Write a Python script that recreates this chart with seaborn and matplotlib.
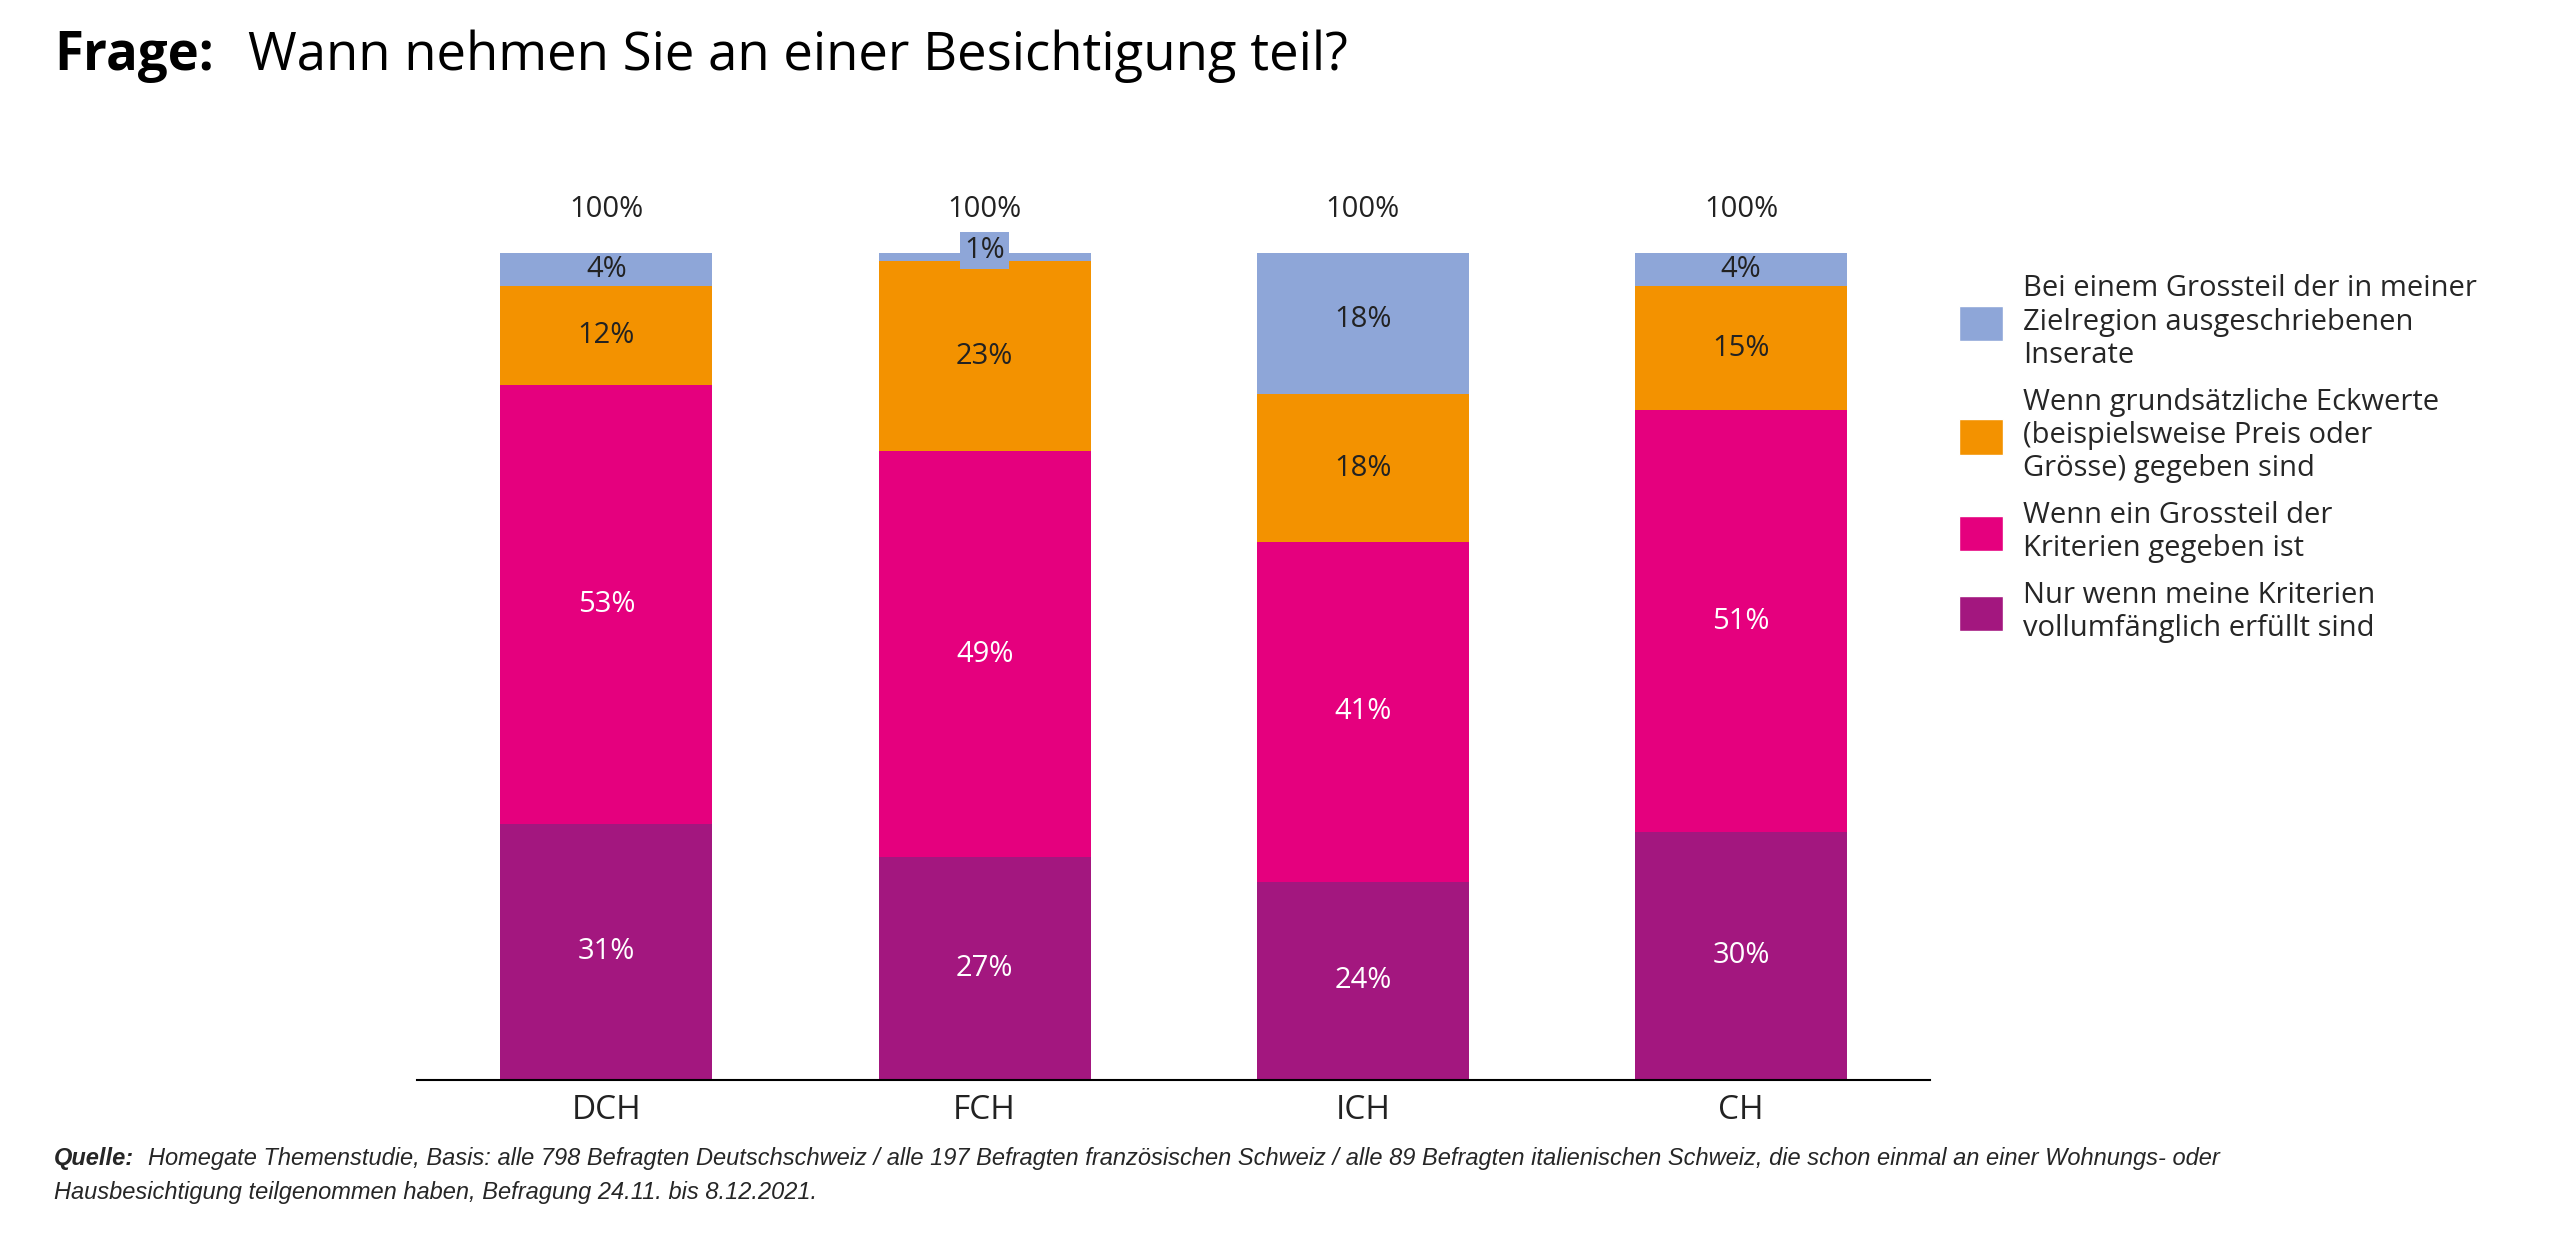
import matplotlib.pyplot as plt
import numpy as np
import pandas as pd
import seaborn as sns
from matplotlib.patches import Patch

regions = ["DCH", "FCH", "ICH", "CH"]
nur_wenn = [31, 27, 24, 30]
grossteil_kriterien = [53, 49, 41, 51]
eckwerte = [12, 23, 18, 15]
grossteil_inserate = [4, 1, 18, 4]
totals = ["100%", "100%", "100%", "100%"]

layers = [
    ("Nur wenn meine Kriterien\nvollumfänglich erfüllt sind", nur_wenn, "#A3177F", "white"),
    ("Wenn ein Grossteil der\nKriterien gegeben ist", grossteil_kriterien, "#E5007E", "white"),
    ("Wenn grundsätzliche Eckwerte\n(beispielsweise Preis oder\nGrösse) gegeben sind", eckwerte, "#F39200", "#222222"),
    ("Bei einem Grossteil der in meiner\nZielregion ausgeschriebenen\nInserate", grossteil_inserate, "#8EA6D8", "#222222"),
]

sns.set_theme(style="white")
plt.rcParams['font.family'] = ['Open Sans', 'DejaVu Sans']

fig = plt.figure(figsize=(25.6, 12.4), dpi=100)
ax = fig.add_axes([0.163, 0.129, 0.591, 0.667])

bottom = np.zeros(len(regions))
for name, vals, color, tcol in layers:
    df = pd.DataFrame({"region": regions, "value": vals})
    sns.barplot(data=df, x="region", y="value", color=color, width=0.56,
                bottom=bottom, ax=ax, saturation=1, linewidth=0, errorbar=None)
    for i, v in enumerate(vals):
        y = bottom[i] + v / 2
        if v <= 1:
            ax.text(i, bottom[i] + v + 0.3, f"{v}%", ha="center", va="center", fontsize=21,
                    color=tcol, bbox=dict(boxstyle="square,pad=0.15", fc=color, ec="none"))
        else:
            ax.text(i, y, f"{v}%", ha="center", va="center", fontsize=21, color=tcol)
    bottom = bottom + np.array(vals)

for i, t in enumerate(totals):
    ax.text(i, 103.5, t, ha="center", va="bottom", fontsize=21, color="#222222")

ax.set_xlim(-0.5, 3.5)
ax.set_ylim(0, 100)
ax.set_xlabel("")
ax.set_ylabel("")
ax.set_yticks([])
ax.tick_params(axis="x", labelsize=24, colors="#222222", length=0, pad=10)
for s in ["top", "right", "left"]:
    ax.spines[s].set_visible(False)
ax.spines["bottom"].set_color("black")
ax.spines["bottom"].set_linewidth(1.5)

handles = [Patch(facecolor=c, label=n) for n, _, c, _ in layers[::-1]]
fig.legend(handles=handles, loc="upper left", bbox_to_anchor=(0.755, 0.8), frameon=False,
           fontsize=21, handlelength=1.5, handleheight=1.5, labelspacing=0.6, handletextpad=0.7,
           alignment="left")

fig.text(0.021, 0.955, "Frage:", fontsize=38, fontweight="bold", va="center", color="black")
fig.text(0.097, 0.955, "Wann nehmen Sie an einer Besichtigung teil?", fontsize=38, va="center", color="black")

fig.text(0.021, 0.066, "Quelle:", fontsize=17, fontweight="bold", style="italic",
         family="Liberation Sans", va="center")
fig.text(0.058, 0.066, "Homegate Themenstudie, Basis: alle 798 Befragten Deutschschweiz / alle 197 Befragten französischen Schweiz / alle 89 Befragten italienischen Schweiz, die schon einmal an einer Wohnungs- oder",
         fontsize=17, style="italic", family="Liberation Sans", va="center")
fig.text(0.021, 0.038, "Hausbesichtigung teilgenommen haben, Befragung 24.11. bis 8.12.2021.",
         fontsize=17, style="italic", family="Liberation Sans", va="center")

fig.savefig("out.png", dpi=100, facecolor="white")
